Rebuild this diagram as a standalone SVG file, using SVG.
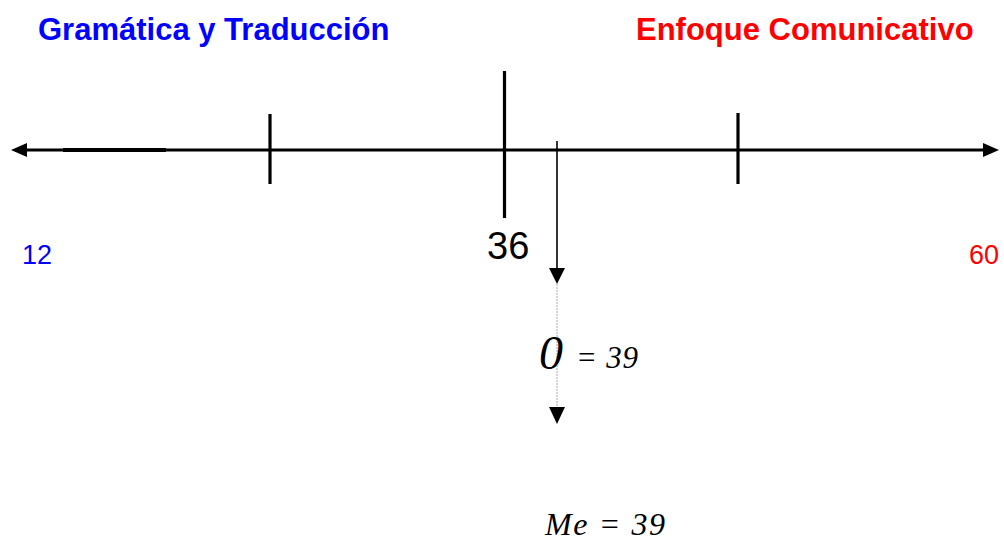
<svg xmlns="http://www.w3.org/2000/svg" width="1004" height="541" viewBox="0 0 1004 541">
<style>
.ttl{font-family:"Liberation Sans",Arial,sans-serif;font-weight:bold;font-size:31px}
.num{font-family:"Liberation Sans",Arial,sans-serif;font-size:27px}
.it{font-family:"Liberation Serif","Times New Roman",serif;font-style:italic;fill:#000}
.axis{stroke:#000;stroke-width:3;fill:none}
.tick{stroke:#000;stroke-width:3.2}
.head{fill:#000;stroke:none}
</style>
<rect width="1004" height="541" fill="#fff"/>
<g id="titles">
<text id="title-left" class="ttl" x="38" y="40" fill="#0000ff">Gramática y Traducción</text>
<text id="title-right" class="ttl" x="636" y="40" fill="#ff0000">Enfoque Comunicativo</text>
</g>
<g id="connectors">
<line class="axis" x1="24" y1="150" x2="986" y2="150"/>
<line stroke="#000" stroke-width="3.8" x1="63" y1="150" x2="166" y2="150"/>
<polygon class="head" points="11,150 27,143 27,157"/>
<polygon class="head" points="999,150 983,143 983,157"/>
<line stroke="#000" stroke-width="1.6" x1="557" y1="141" x2="557" y2="270"/>
<polygon class="head" points="557,284 549,268 565,268"/>
<line stroke="#aaa" stroke-width="1" stroke-dasharray="2,1" x1="557" y1="284" x2="557" y2="408"/>
<polygon class="head" points="557,424 549,407 565,407"/>
</g>
<g id="ticks">
<line id="tick-1" class="tick" x1="270" y1="114" x2="270" y2="184"/>
<line id="tick-36" class="tick" x1="504.5" y1="71" x2="504.5" y2="218"/>
<line id="tick-3" class="tick" x1="738" y1="113" x2="738" y2="184"/>
</g>
<g id="labels">
<text id="n12" class="num" x="22" y="264" fill="#0000ff">12</text>
<text id="n60" class="num" x="999" y="264" fill="#ff0000" text-anchor="end">60</text>
<text id="n36" x="487" y="259" font-family="Liberation Sans, Arial, sans-serif" font-size="38" fill="#000">36</text>
</g>
<g id="mode">
<text class="it" x="539" y="369" font-size="48">0</text>
<text class="it" x="576" y="368" font-size="31" textLength="62" lengthAdjust="spacing">= 39</text>
</g>
<g id="median">
<text class="it" x="545" y="535" font-size="32" textLength="120" lengthAdjust="spacing">Me = 39</text>
</g>
</svg>
